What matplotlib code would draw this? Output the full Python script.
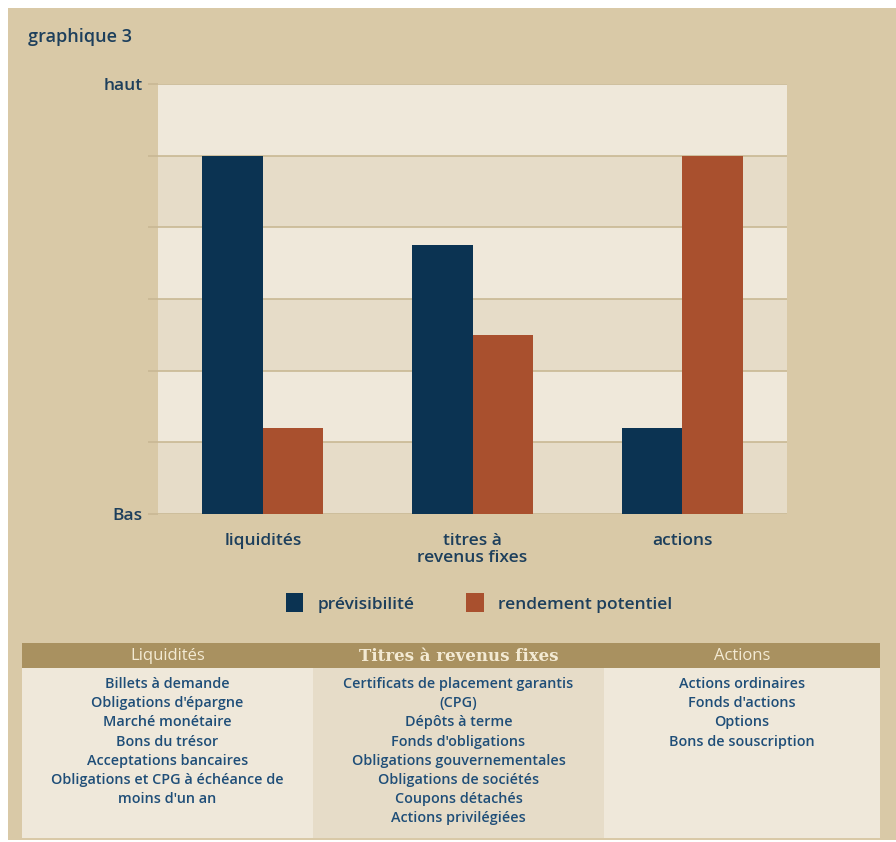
import numpy as np
import matplotlib
matplotlib.use("Agg")
import matplotlib.pyplot as plt
from matplotlib.patches import Rectangle

# ---- data ----
categories = ["liquidités", "titres à\nrevenus fixes", "actions"]
previsibilite = [5.0, 3.75, 1.2]
rendement = [1.2, 2.5, 5.0]
series_names = ["prévisibilité", "rendement potentiel"]
y_levels = [0, 1, 2, 3, 4, 5, 6]
y_labels = {0: "Bas", 6: "haut"}

table_headers = ["Liquidités", "Titres à revenus fixes", "Actions"]
table_liq = ["Billets à demande", "Obligations d'épargne", "Marché monétaire",
             "Bons du trésor", "Acceptations bancaires",
             "Obligations et CPG à échéance de", "moins d'un an"]
table_fix = ["Certificats de placement garantis", "(CPG)", "Dépôts à terme",
             "Fonds d'obligations", "Obligations gouvernementales",
             "Obligations de sociétés", "Coupons détachés", "Actions privilégiées"]
table_act = ["Actions ordinaires", "Fonds d'actions", "Options", "Bons de souscription"]

# ---- style ----
W, H = 896, 842
TAN = "#d9c9a7"
LIGHT = "#efe8da"
DARK = "#e6dcc8"
NAVY = "#0b3352"
RUST = "#a9502e"
TXT = "#1d3f5c"
TBL_TXT = "#1f4e78"
HEAD = "#a99160"
plt.rcParams.update({"font.family": ["Open Sans", "DejaVu Sans"]})

fig = plt.figure(figsize=(W / 100, H / 100), dpi=100)
fig.patch.set_facecolor("white")

def fx(x): return x / W
def fy(y): return 1 - y / H

# tan background panel
fig.patches.append(Rectangle((fx(8), fy(840)), fx(888), 832 / H,
                             transform=fig.transFigure, fc=TAN, ec="none", zorder=-2))

fig.text(fx(28), fy(37), "graphique 3", fontsize=13, color=TXT, va="center", ha="left",
         fontweight="semibold")

# ---- bar chart ----
ax = fig.add_axes([fx(158), fy(514), (787 - 158) / W, (514 - 84) / H], zorder=2)
ax.set_facecolor(LIGHT)
for i in range(len(y_levels) - 1):
    ax.axhspan(y_levels[i], y_levels[i + 1], color=DARK if i % 2 == 0 else LIGHT, lw=0, zorder=0)
for y in y_levels:
    ax.axhline(y, color="#c9b894", lw=1.2, zorder=1)

x = np.arange(len(categories))
bw = 0.288
ax.bar(x - bw / 2, previsibilite, bw, color=NAVY, zorder=2, label=series_names[0])
ax.bar(x + bw / 2, rendement, bw, color=RUST, zorder=2, label=series_names[1])

ax.set_xlim(-0.5, 2.5)
ax.set_ylim(y_levels[0], y_levels[-1])
ax.set_yticks(y_levels)
ax.set_yticklabels([y_labels.get(v, "") for v in y_levels], fontsize=12.5, color=TXT,
                   fontweight="semibold")
ax.tick_params(axis="y", length=7, color="#c9b894", width=1.2, pad=4)
ax.set_xticks(x)
ax.set_xticklabels(categories, fontsize=12.5, color=TXT, linespacing=1.05,
                   fontweight="semibold")
ax.tick_params(axis="x", length=0, pad=14)
for s in ax.spines.values():
    s.set_visible(False)

leg = fig.legend(loc="center", bbox_to_anchor=(fx(479), fy(603)), ncol=2, frameon=False,
                 prop={"size": 12.5, "weight": "semibold"}, handlelength=1.0,
                 handleheight=1.3, columnspacing=3.0, handletextpad=0.8)
for t in leg.get_texts():
    t.set_color(TXT)

# ---- table ----
cols = [(22, 313), (313, 604), (604, 880)]
top_h, bot_h, bot = 643, 668, 838
body_colors = [LIGHT, DARK, LIGHT]
for (x0, x1), c in zip(cols, body_colors):
    fig.patches.append(Rectangle((fx(x0), fy(bot)), (x1 - x0) / W, (bot - bot_h) / H,
                                 transform=fig.transFigure, fc=c, ec="none", zorder=-1))
fig.patches.append(Rectangle((fx(22), fy(bot_h)), (880 - 22) / W, (bot_h - top_h) / H,
                             transform=fig.transFigure, fc=HEAD, ec="none", zorder=-1))

head_styles = [dict(family=["Open Sans", "DejaVu Sans"]),
               dict(family=["DejaVu Serif"], fontweight="bold"),
               dict(family=["Open Sans", "DejaVu Sans"])]
for (x0, x1), h, st in zip(cols, table_headers, head_styles):
    fig.text(fx((x0 + x1) / 2), fy((top_h + bot_h) / 2 + 1), h, fontsize=12, color="#f3ead3",
             ha="center", va="center", zorder=3, **st)

for (x0, x1), items in zip(cols, [table_liq, table_fix, table_act]):
    for k, it in enumerate(items):
        fig.text(fx((x0 + x1) / 2), fy(684 + k * 19.2), it, fontsize=10.4, color=TBL_TXT,
                 ha="center", va="center", zorder=3, fontweight="semibold")

fig.savefig("out.png", dpi=100, facecolor=fig.get_facecolor())
